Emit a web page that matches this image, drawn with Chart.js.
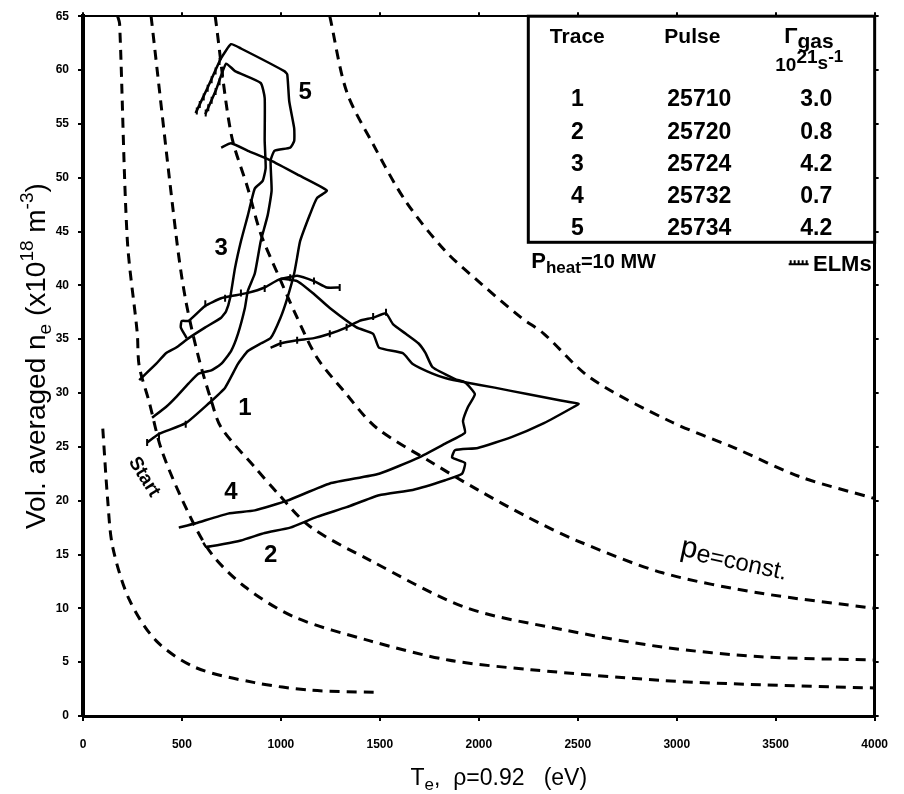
<!DOCTYPE html>
<html>
<head>
<meta charset="utf-8">
<script src="https://cdn.jsdelivr.net/npm/chart.js@4.4.1/dist/chart.umd.min.js"></script>
<style>
  html, body { margin: 0; padding: 0; background: #fff; }
  #wrap { width: 904px; height: 794px; }
</style>
</head>
<body>
<div id="wrap"><canvas id="chart" width="904" height="794"></canvas></div>
<script>
const FONT = "'Liberation Sans', Arial, sans-serif";

const xTickValues = [0, 500, 1000, 1500, 2000, 2500, 3000, 3500, 4000];
const yTickValues = [0, 5, 10, 15, 20, 25, 30, 35, 40, 45, 50, 55, 60, 65];

// constant electron pressure curves, [Te (eV), ne (1e18 m-3)]
const isobarA = [[100, 26.7], [125, 20.0], [150, 15.7], [234, 10.8], [369, 7.0], [569, 4.5], [868, 3.1], [1147, 2.4], [1471, 2.2]];
const isobarB = [[175, 65], [185, 64.3], [224, 44.2], [274, 35.6], [284, 32.5], [334, 29.2], [399, 24.6], [534, 18.8], [648, 15.1], [818, 12.0], [1067, 9.2], [1446, 7.0], [1845, 5.2], [2264, 4.3], [2928, 3.3], [3426, 2.9], [4000, 2.6]];
const isobarC = [[344, 65], [474, 44.1], [519, 38.6], [584, 33.3], [648, 29.3], [698, 26.8], [868, 23.1], [983, 20.7], [1147, 17.6], [1446, 14.5], [1930, 10.1], [2429, 8.0], [2928, 6.4], [3426, 5.5], [4000, 5.2]];
const isobarD = [[668, 65], [748, 54.1], [833, 49.0], [898, 44.8], [983, 41.1], [1082, 37.0], [1182, 33.3], [1317, 30.2], [1481, 26.8], [1766, 23.5], [1995, 21.0], [2244, 18.5], [2494, 16.3], [2928, 13.3], [3426, 11.4], [4000, 10.0]];
const isobarE = [[1247, 65], [1332, 58.0], [1466, 53.1], [1631, 47.8], [1830, 43.2], [2015, 40.1], [2214, 37.0], [2329, 35.5], [2564, 31.4], [2963, 27.4], [3292, 24.9], [3626, 22.2], [4000, 20.2]];

// discharge trajectories
const trace1 = [[324, 25.4], [384, 26.2], [519, 27.2], [633, 29.0], [718, 30.5], [783, 32.7], [833, 33.9], [898, 34.6], [948, 35.1], [998, 37.0], [1032, 38.8], [1067, 41.1], [1082, 42.6], [1097, 44.1], [1147, 46.6], [1182, 48.1], [1232, 48.8], [1082, 50.3], [948, 51.6], [833, 52.5], [748, 53.2], [698, 52.8]];
const trace2 = [[608, 16.1], [623, 15.7], [798, 16.3], [918, 17.0], [1047, 17.5], [1182, 18.5], [1332, 19.4], [1496, 20.5], [1666, 21.0], [1830, 21.9], [1915, 22.5], [1930, 23.5], [1865, 24.0], [1880, 24.7], [1995, 24.9], [2165, 25.9], [2329, 27.2], [2479, 28.7], [2504, 29.0], [2414, 29.3], [2244, 29.9], [2080, 30.5], [1930, 31.0], [1830, 31.4], [1766, 31.8], [1666, 32.7], [1616, 33.7], [1496, 34.2], [1466, 35.5], [1382, 36.1], [1247, 37.9], [1167, 39.2], [1082, 40.4], [998, 40.6], [918, 39.8], [833, 39.3], [748, 39.0], [698, 38.8], [618, 38.1], [534, 36.7], [499, 36.7], [494, 36.1], [524, 35.1]];
const trace2Tail = [[998, 40.6], [1082, 40.9], [1167, 40.4], [1232, 39.8], [1297, 39.8]];
const trace3 = [[284, 31.2], [369, 32.7], [419, 33.7], [469, 34.2], [534, 35.1], [618, 36.1], [698, 37.0], [723, 37.6], [743, 38.8], [768, 41.6], [798, 44.1], [833, 46.5], [868, 49.0], [908, 49.7], [923, 50.9], [918, 53.4], [918, 57.4], [898, 58.8], [768, 59.9], [723, 60.6], [673, 58.2], [618, 55.9]];
const trace4 = [[484, 17.5], [569, 17.9], [733, 18.8], [868, 19.1], [1032, 20.0], [1247, 21.6], [1496, 22.5], [1696, 24.0], [1830, 25.3], [1930, 26.3], [1920, 27.4], [1945, 28.7], [1980, 29.9], [1930, 31.0], [1880, 31.3], [1766, 32.4], [1731, 33.7], [1696, 34.6], [1631, 35.5], [1566, 36.4], [1531, 37.4], [1466, 37.0], [1397, 36.7], [1332, 36.1], [1247, 35.5], [1167, 35.1], [1082, 34.9], [998, 34.6], [948, 34.2]];
const trace5 = [[349, 27.7], [419, 28.7], [469, 29.6], [534, 30.9], [584, 31.8], [648, 32.1], [698, 32.7], [748, 33.9], [783, 35.5], [818, 37.9], [833, 39.5], [868, 41.1], [898, 44.1], [933, 46.5], [953, 48.8], [948, 51.6], [968, 52.5], [1047, 52.8], [1067, 53.4], [1067, 54.6], [1042, 57.1], [1032, 59.6], [1017, 59.9], [798, 62.0], [748, 62.4], [698, 61.1], [633, 58.5], [569, 56.0]];

// ELM spikes seen on the trajectories
const elmMarks = [[324, 25.4], [384, 26.0], [519, 27.1], [648, 29.3],
  [618, 38.3], [718, 38.8], [798, 39.3], [918, 39.7], [1047, 40.7], [1167, 40.4], [1297, 39.8],
  [998, 34.6], [1082, 34.9], [1247, 35.5], [1332, 36.1], [1466, 37.1], [1531, 37.5],
  [690, 60.8], [670, 59.9], [650, 59.1], [630, 58.3], [610, 57.5], [590, 56.8], [575, 56.2],
  [705, 59.6], [690, 58.9], [670, 58.0], [650, 57.2], [633, 56.5], [620, 56.0]];

// table
const traceIds = ["1", "2", "3", "4", "5"];
const pulses = ["25710", "25720", "25724", "25732", "25734"];
const gasRates = ["3.0", "0.8", "4.2", "0.7", "4.2"];

// trace label anchors [Te, ne]
const traceLabels = [["5", 1122, 57.9], ["3", 698, 43.4], ["1", 818, 28.6], ["4", 748, 20.8], ["2", 948, 14.9]];

function toPoints(rows) {
  return rows.map(([x, y]) => ({ x, y }));
}

function dashedCurve(rows) {
  return {
    data: toPoints(rows),
    showLine: true,
    borderColor: "#000",
    borderWidth: 3,
    borderDash: [10, 7],
    pointRadius: 0,
    tension: 0.3,
  };
}

function solidTrace(rows) {
  return {
    data: toPoints(rows),
    showLine: true,
    borderColor: "#000",
    borderWidth: 2.5,
    pointRadius: 0,
    tension: 0.15,
  };
}

function drawRich(ctx, parts, x, y, align) {
  let total = 0;
  parts.forEach((p) => {
    ctx.font = `${p.w || "normal"} ${p.s}px ${FONT}`;
    p.width = ctx.measureText(p.t).width;
    total += p.width;
  });
  let cx = align === "center" ? x - total / 2 : align === "right" ? x - total : x;
  ctx.textAlign = "left";
  parts.forEach((p) => {
    ctx.font = `${p.w || "normal"} ${p.s}px ${FONT}`;
    ctx.fillText(p.t, cx, y + (p.dy || 0));
    cx += p.width;
  });
}

const annotations = {
  id: "annotations",
  afterDraw(chart) {
    const { ctx } = chart;
    const xs = chart.scales.x;
    const ys = chart.scales.y;
    ctx.save();
    ctx.fillStyle = "#000";
    ctx.textBaseline = "alphabetic";

    // axis titles
    drawRich(ctx, [
      { t: "T", s: 23 }, { t: "e", s: 17, dy: 5 }, { t: ",  \u03c1=0.92   (eV)", s: 23 },
    ], (xs.left + xs.right) / 2 + 20, 785, "center");

    ctx.save();
    ctx.translate(45, (ys.top + ys.bottom) / 2 - 10);
    ctx.rotate(-Math.PI / 2);
    drawRich(ctx, [
      { t: "Vol. averaged n", s: 28 }, { t: "e", s: 19, dy: 6 }, { t: " (x10", s: 28 },
      { t: "18", s: 19, dy: -12 }, { t: " m", s: 28 }, { t: "-3", s: 19, dy: -12 }, { t: ")", s: 28 },
    ], 0, 0, "center");
    ctx.restore();

    // trace numbers
    ctx.textAlign = "center";
    ctx.textBaseline = "middle";
    ctx.font = `bold 24px ${FONT}`;
    traceLabels.forEach(([label, tx, ny]) => {
      ctx.fillText(label, xs.getPixelForValue(tx), ys.getPixelForValue(ny));
    });

    // Start
    ctx.save();
    ctx.translate(xs.getPixelForValue(309), ys.getPixelForValue(22.2));
    ctx.rotate(58 * Math.PI / 180);
    ctx.font = `bold 19px ${FONT}`;
    ctx.fillText("Start", 0, 0);
    ctx.restore();

    // pe = const
    ctx.save();
    ctx.translate(xs.getPixelForValue(3290), ys.getPixelForValue(14.6));
    ctx.rotate(12 * Math.PI / 180);
    ctx.textBaseline = "alphabetic";
    drawRich(ctx, [{ t: "p", s: 30 }, { t: "e", s: 25, dy: 2 }, { t: "=const.", s: 24, dy: 2 }], 0, 8, "center");
    ctx.restore();

    // table box
    const L = xs.getPixelForValue(2250);
    const R = xs.getPixelForValue(4000);
    const T = ys.getPixelForValue(65);
    const B = ys.getPixelForValue(44);
    ctx.fillStyle = "#fff";
    ctx.fillRect(L, T, R - L, B - T);
    ctx.strokeStyle = "#000";
    ctx.lineWidth = 3;
    ctx.strokeRect(L, T, R - L, B - T);
    ctx.fillStyle = "#000";
    ctx.textBaseline = "alphabetic";
    ctx.textAlign = "center";
    ctx.font = `bold 21px ${FONT}`;
    ctx.fillText("Trace", L + 49, T + 27);
    ctx.fillText("Pulse", L + 164, T + 27);
    drawRich(ctx, [{ t: "\u0393", s: 22, w: "bold" }, { t: "gas", s: 21, w: "bold", dy: 5 }], L + 256, T + 27, "left");
    drawRich(ctx, [
      { t: "10", s: 19, w: "bold" }, { t: "21", s: 19, w: "bold", dy: -8 },
      { t: "s", s: 19, w: "bold", dy: -2 }, { t: "-1", s: 17, w: "bold", dy: -9 },
    ], L + 247, T + 55, "left");
    ctx.font = `bold 23px ${FONT}`;
    ctx.textAlign = "center";
    traceIds.forEach((id, i) => {
      const by = T + 90 + 32.3 * i;
      ctx.fillText(id, L + 49, by);
      ctx.fillText(pulses[i], L + 171, by);
      ctx.fillText(gasRates[i], L + 288, by);
    });

    // heating power + ELM key
    drawRich(ctx, [
      { t: "P", s: 22, w: "bold" }, { t: "heat", s: 17, w: "bold", dy: 5 }, { t: "=10 MW", s: 20, w: "bold" },
    ], L + 3, B + 26, "left");
    ctx.font = `bold 22px ${FONT}`;
    ctx.textAlign = "right";
    ctx.fillText("ELMs", R - 3, B + 29);
    ctx.lineWidth = 2;
    ctx.beginPath();
    ctx.moveTo(R - 86, B + 22);
    ctx.lineTo(R - 66, B + 22);
    for (let k = 0; k < 5; k++) {
      const px = R - 84 + k * 4;
      ctx.moveTo(px, B + 22);
      ctx.lineTo(px, B + 18);
    }
    ctx.stroke();

    ctx.restore();
  },
};

const tickFont = { family: FONT, size: 12, weight: "bold" };
const plainLabel = (v) => String(v);

new Chart(document.getElementById("chart"), {
  type: "scatter",
  data: {
    datasets: [
      dashedCurve(isobarA),
      dashedCurve(isobarB),
      dashedCurve(isobarC),
      dashedCurve(isobarD),
      dashedCurve(isobarE),
      solidTrace(trace1),
      solidTrace(trace2),
      solidTrace(trace2Tail),
      solidTrace(trace3),
      solidTrace(trace4),
      solidTrace(trace5),
      {
        data: toPoints(elmMarks),
        showLine: false,
        pointStyle: "line",
        rotation: 90,
        pointRadius: 3.5,
        borderColor: "#000",
        borderWidth: 2,
      },
    ],
  },
  options: {
    responsive: false,
    animation: false,
    layout: { padding: 0 },
    plugins: { legend: { display: false }, tooltip: { enabled: false } },
    scales: {
      x: {
        type: "linear",
        position: "bottom",
        min: 0,
        max: 4000,
        afterBuildTicks: (s) => { s.ticks = xTickValues.map((v) => ({ value: v })); },
        ticks: { font: tickFont, color: "#000", padding: 16, maxRotation: 0, autoSkip: false, callback: plainLabel },
        grid: { drawOnChartArea: false, drawTicks: true, tickLength: 5, color: "#000", lineWidth: 2 },
        border: { display: true, color: "#000", width: 3 },
        afterFit: (s) => { s.height = 78; },
      },
      xTop: {
        type: "linear",
        position: "top",
        min: 0,
        max: 4000,
        afterBuildTicks: (s) => { s.ticks = xTickValues.map((v) => ({ value: v })); },
        ticks: { display: false },
        grid: { drawOnChartArea: false, drawTicks: true, tickLength: 4, color: "#000", lineWidth: 2 },
        border: { display: true, color: "#000", width: 2 },
        afterFit: (s) => { s.height = 15; },
      },
      y: {
        type: "linear",
        position: "left",
        min: 0,
        max: 65,
        afterBuildTicks: (s) => { s.ticks = yTickValues.map((v) => ({ value: v })); },
        ticks: { font: tickFont, color: "#000", padding: 9, callback: plainLabel },
        grid: { drawOnChartArea: false, drawTicks: true, tickLength: 5, color: "#000", lineWidth: 2 },
        border: { display: true, color: "#000", width: 4 },
        afterFit: (s) => { s.width = 83; },
      },
      yRight: {
        type: "linear",
        position: "right",
        min: 0,
        max: 65,
        afterBuildTicks: (s) => { s.ticks = yTickValues.map((v) => ({ value: v })); },
        ticks: { display: false },
        grid: { drawOnChartArea: false, drawTicks: true, tickLength: 4, color: "#000", lineWidth: 2 },
        border: { display: true, color: "#000", width: 3 },
        afterFit: (s) => { s.width = 20; },
      },
    },
  },
  plugins: [annotations],
});
</script>
</body>
</html>
